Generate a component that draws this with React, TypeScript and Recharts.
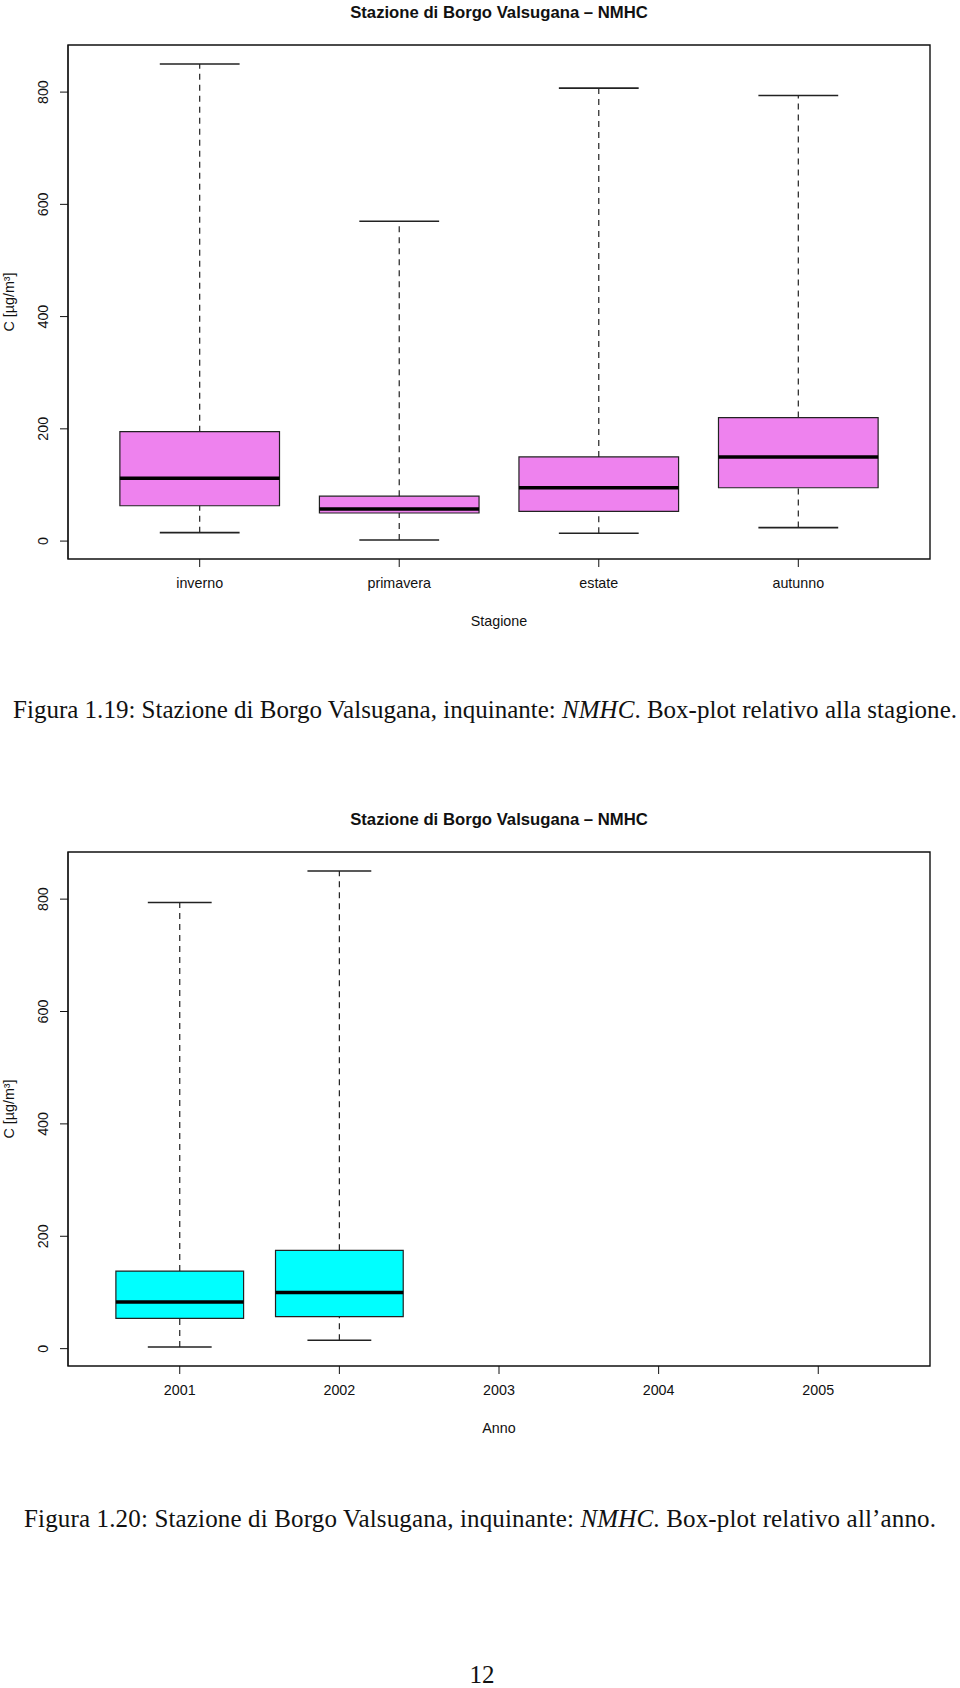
import React from "react"
import { ComposedChart, XAxis, YAxis, Scatter, ReferenceArea, ReferenceLine } from "recharts"

// Stagione
const seasons = ["inverno", "primavera", "estate", "autunno"]
const seasonMin = [15, 2, 14, 24]
const seasonQ1 = [63, 50, 53, 95]
const seasonMedian = [112, 57, 95, 150]
const seasonQ3 = [195, 80, 150, 220]
const seasonMax = [850, 570, 807, 794]

// Anno
const years = ["2001", "2002", "2003", "2004", "2005"]
const yearMin: (number | null)[] = [3, 15, null, null, null]
const yearQ1: (number | null)[] = [54, 57, null, null, null]
const yearMedian: (number | null)[] = [83, 100, null, null, null]
const yearQ3: (number | null)[] = [138, 175, null, null, null]
const yearMax: (number | null)[] = [794, 850, null, null, null]

const yTicks = [0, 200, 400, 600, 800]

const SANS = "'Liberation Sans', Arial, Helvetica, sans-serif"
const SERIF = "'Liberation Serif', 'Times New Roman', serif"

interface BoxChartProps {
  cats: string[]
  mins: (number | null)[]
  q1s: (number | null)[]
  meds: (number | null)[]
  q3s: (number | null)[]
  maxs: (number | null)[]
  fill: string
}

function BoxChart({ cats, mins, q1s, meds, q3s, maxs, fill }: BoxChartProps) {
  const n = cats.length
  // R style: x from 0.5 to n+0.5, plus 4% padding
  const xpad = n * 0.04
  const xDomain = [0.5 - xpad, n + 0.5 + xpad]
  const vals = [...mins, ...maxs].filter((v): v is number => v != null)
  const lo = Math.min(...vals)
  const hi = Math.max(...vals)
  const ypad = (hi - lo) * 0.04
  const yDomain = [lo - ypad, hi + ypad]

  const points = cats
    .map((c, i) => ({ pos: i + 1, median: meds[i] }))
    .filter((d) => d.median != null)

  const idx = cats.map((_, i) => i).filter((i) => q1s[i] != null)
  const dash = "6 5"

  const XTick = ({ x, y, payload }: any) => (
    <text x={x} y={y + 19} textAnchor="middle" fontSize={14.3} fontFamily={SANS} fill="#111">
      {cats[payload.value - 1]}
    </text>
  )
  const YTick = ({ x, y, payload }: any) => (
    <text
      x={x - 10}
      y={y}
      transform={`rotate(-90, ${x - 10}, ${y})`}
      textAnchor="middle"
      fontSize={14.3}
      fontFamily={SANS}
      fill="#111"
    >
      {payload.value}
    </text>
  )

  return (
    <ComposedChart width={960} height={640} margin={{ top: 45, right: 30, bottom: 41, left: 0 }}>
      <XAxis
        type="number"
        dataKey="pos"
        domain={xDomain}
        ticks={cats.map((_, i) => i + 1)}
        allowDataOverflow
        axisLine={false}
        tickSize={8}
        tickLine={{ stroke: "#111" }}
        tick={<XTick />}
        height={40}
        interval={0}
      />
      <YAxis
        type="number"
        dataKey="median"
        domain={yDomain}
        ticks={yTicks}
        allowDataOverflow
        width={68}
        tickSize={8}
        tickLine={{ stroke: "#111" }}
        axisLine={{ stroke: "#111" }}
        tick={<YTick />}
      />
      <ReferenceArea
        x1={xDomain[0]}
        x2={xDomain[1]}
        y1={yDomain[0]}
        y2={yDomain[1]}
        fill="none"
        stroke="#111"
        strokeWidth={1.4}
      />
      {idx.map((i) => (
        <ReferenceArea
          key={"box" + i}
          x1={i + 1 - 0.4}
          x2={i + 1 + 0.4}
          y1={q1s[i] as number}
          y2={q3s[i] as number}
          fill={fill}
          fillOpacity={1}
          stroke="#222"
          strokeWidth={1.2}
        />
      ))}
      {idx.map((i) => (
        <ReferenceLine
          key={"wu" + i}
          segment={[
            { x: i + 1, y: q3s[i] as number },
            { x: i + 1, y: maxs[i] as number },
          ]}
          stroke="#222"
          strokeWidth={1.2}
          strokeDasharray={dash}
        />
      ))}
      {idx.map((i) => (
        <ReferenceLine
          key={"wl" + i}
          segment={[
            { x: i + 1, y: mins[i] as number },
            { x: i + 1, y: q1s[i] as number },
          ]}
          stroke="#222"
          strokeWidth={1.2}
          strokeDasharray={dash}
        />
      ))}
      {idx.map((i) => (
        <ReferenceLine
          key={"cu" + i}
          segment={[
            { x: i + 1 - 0.2, y: maxs[i] as number },
            { x: i + 1 + 0.2, y: maxs[i] as number },
          ]}
          stroke="#222"
          strokeWidth={1.6}
        />
      ))}
      {idx.map((i) => (
        <ReferenceLine
          key={"cl" + i}
          segment={[
            { x: i + 1 - 0.2, y: mins[i] as number },
            { x: i + 1 + 0.2, y: mins[i] as number },
          ]}
          stroke="#222"
          strokeWidth={1.6}
        />
      ))}
      {idx.map((i) => (
        <ReferenceLine
          key={"md" + i}
          segment={[
            { x: i + 1 - 0.4, y: meds[i] as number },
            { x: i + 1 + 0.4, y: meds[i] as number },
          ]}
          stroke="#000"
          strokeWidth={3.5}
        />
      ))}
      <Scatter data={points} dataKey="median" shape={() => <g />} isAnimationActive={false} />
    </ComposedChart>
  )
}

export default function App() {
  const OFF = 807
  return (
    <div style={{ position: "absolute", left: 0, top: 0, width: 960, height: 1688, background: "#fff", overflow: "hidden" }}>
      <div style={{ position: "absolute", left: 0, top: 0 }}>
        <BoxChart
          cats={seasons}
          mins={seasonMin}
          q1s={seasonQ1}
          meds={seasonMedian}
          q3s={seasonQ3}
          maxs={seasonMax}
          fill="#EE82EE"
        />
      </div>
      <div style={{ position: "absolute", left: 0, top: OFF }}>
        <BoxChart
          cats={years}
          mins={yearMin}
          q1s={yearQ1}
          meds={yearMedian}
          q3s={yearQ3}
          maxs={yearMax}
          fill="#00FFFF"
        />
      </div>
      <svg
        width={960}
        height={1688}
        style={{ position: "absolute", left: 0, top: 0, pointerEvents: "none", overflow: "visible" }}
      >
        <g fill="#111" fontFamily={SANS}>
          <text x={499} y={18} textAnchor="middle" fontSize={16.7} fontWeight="bold">
            Stazione di Borgo Valsugana – NMHC
          </text>
          <text x={499} y={626} textAnchor="middle" fontSize={14.3}>Stagione</text>
          <text x={14} y={302} transform="rotate(-90, 14, 302)" textAnchor="middle" fontSize={14.3}>
            C [µg/m³]
          </text>
          <text x={499} y={18 + OFF} textAnchor="middle" fontSize={16.7} fontWeight="bold">
            Stazione di Borgo Valsugana – NMHC
          </text>
          <text x={499} y={626 + OFF} textAnchor="middle" fontSize={14.3}>Anno</text>
          <text
            x={14}
            y={302 + OFF}
            transform={`rotate(-90, 14, ${302 + OFF})`}
            textAnchor="middle"
            fontSize={14.3}
          >
            C [µg/m³]
          </text>
        </g>
        <g fill="#111" fontFamily={SERIF} fontSize={25}>
          <text x={485} y={718} textAnchor="middle" textLength={944} lengthAdjust="spacing">
            Figura 1.19: Stazione di Borgo Valsugana, inquinante: <tspan fontStyle="italic">NMHC</tspan>. Box-plot
            relativo alla stagione.
          </text>
          <text x={480} y={1527} textAnchor="middle" textLength={912} lengthAdjust="spacing">
            Figura 1.20: Stazione di Borgo Valsugana, inquinante: <tspan fontStyle="italic">NMHC</tspan>. Box-plot
            relativo all’anno.
          </text>
          <text x={482} y={1683} textAnchor="middle">12</text>
        </g>
      </svg>
    </div>
  )
}
